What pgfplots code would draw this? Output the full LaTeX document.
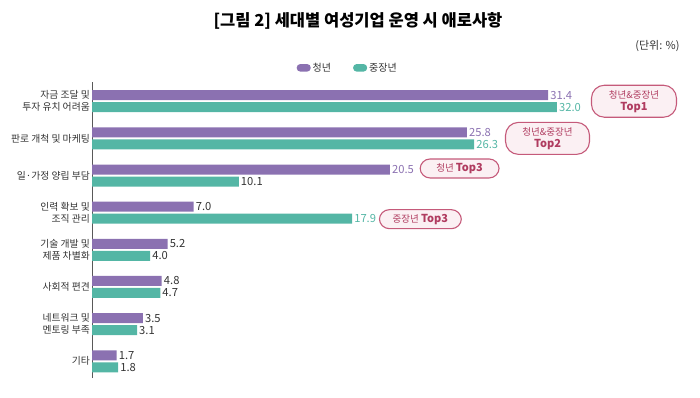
\documentclass[border=0pt]{standalone}
\usepackage{pgfplots}
\pgfplotsset{compat=1.18}
\usepackage{fontspec}
\setmainfont{Noto Sans CJK KR}
\definecolor{cpurple}{HTML}{8B71B1}
\definecolor{cteal}{HTML}{54B6A5}
\definecolor{ctext}{HTML}{333333}
\definecolor{cbadgefill}{HTML}{FBF0F3}
\definecolor{cbadgedraw}{HTML}{C55A7A}
\definecolor{cbadgetext}{HTML}{B03C60}
\begin{document}
\begin{tikzpicture}
\useasboundingbox (0,0) rectangle (700pt,397pt);
\node[font=\fontsize{16.5}{19}\selectfont\bfseries, text=black] at (358pt,376pt) {[그림 2] 세대별 여성기업 운영 시 애로사항};
\node[font=\fontsize{11}{13}\selectfont, text=ctext, anchor=east] at (683pt,351pt) {(단위: \%)};
\begin{axis}[
  at={(92pt,19pt)}, anchor=south west,
  scale only axis, width=581.2pt, height=296pt,
  xmin=0, xmax=40, ymin=-0.451, ymax=7.518,
  hide x axis,
  axis y line*=left,
  y axis line style={draw=black!65, line width=0.9pt},
  ytick={0,...,7},
  yticklabels={기타,{네트워크 및\\멘토링 부족},사회적 편견,{기술 개발 및\\제품 차별화},{인력 확보 및\\조직 관리},일·가정 양립 부담,판로 개척 및 마케팅,{자금 조달 및\\투자 유치 어려움}},
  yticklabel style={align=right, font=\fontsize{9.8}{12}\selectfont, text=ctext, inner xsep=2pt},
  ytick style={draw=none},
  clip=false,
  legend style={at={(0.44,1.047)}, anchor=center, draw=none, fill=none, legend columns=2,
    font=\fontsize{10}{12}\selectfont, text=ctext,
    /tikz/every even column/.append style={column sep=20pt}},
  legend image code/.code={\fill[#1, rounded corners=3.5pt] (0pt,-3.5pt) rectangle (14pt,4pt);},
  vlab/.style={draw=none, mark=none, forget plot, nodes near coords, point meta=explicit symbolic,
    every node near coord/.append style={anchor=west, inner sep=2pt, font=\fontsize{11.2}{13}\selectfont}},
]
\addplot[xbar, bar width=10pt, bar shift=6pt, fill=cpurple, draw=none] coordinates {
 (31.4,7) (25.8,6) (20.5,5) (7.0,4) (5.2,3) (4.8,2) (3.5,1) (1.7,0)};
\addlegendentry{청년}
\addplot[xbar, bar width=10pt, bar shift=-6pt, fill=cteal, draw=none] coordinates {
 (32.0,7) (26.3,6) (10.1,5) (17.9,4) (4.0,3) (4.7,2) (3.1,1) (1.8,0)};
\addlegendentry{중장년}
% value labels (y offset 0.1616 = 6pt bar shift)
\addplot[vlab, every node near coord/.append style={text=cpurple}] coordinates {
 (31.4,7.1616)[31.4] (25.8,6.1616)[25.8] (20.5,5.1616)[20.5]};
\addplot[vlab, every node near coord/.append style={text=ctext}] coordinates {
 (7.0,4.1616)[7.0] (5.2,3.1616)[5.2] (4.8,2.1616)[4.8] (3.5,1.1616)[3.5] (1.7,0.1616)[1.7]};
\addplot[vlab, every node near coord/.append style={text=cteal}] coordinates {
 (32.0,6.8384)[32.0] (26.3,5.8384)[26.3] (17.9,3.8384)[17.9]};
\addplot[vlab, every node near coord/.append style={text=ctext}] coordinates {
 (10.1,4.8384)[10.1] (4.0,2.8384)[4.0] (4.7,1.8384)[4.7] (3.1,0.8384)[3.1] (1.8,-0.1616)[1.8]};
% badges
\tikzset{badge/.style={draw=cbadgedraw, fill=cbadgefill, line width=1.1pt, rounded corners=10pt,
  text=cbadgetext, align=center, inner xsep=8pt, inner ysep=2pt, font=\fontsize{9.5}{12}\selectfont}}
\node[badge, minimum width=85pt, minimum height=32pt, rounded corners=13pt] at (axis cs:37.3,7) {청년\&중장년\\{\fontsize{11}{12}\selectfont\bfseries Top1}};
\node[badge, minimum width=84pt, minimum height=32pt, rounded corners=13pt] at (axis cs:31.35,6) {청년\&중장년\\{\fontsize{11}{12}\selectfont\bfseries Top2}};
\node[badge, minimum width=79pt, minimum height=19pt] at (axis cs:25.3,5.19) {청년 {\fontsize{11}{12}\selectfont\bfseries Top3}};
\node[badge, minimum width=82pt, minimum height=19pt] at (axis cs:22.6,3.825) {중장년 {\fontsize{11}{12}\selectfont\bfseries Top3}};
\end{axis}
\end{tikzpicture}
\end{document}
